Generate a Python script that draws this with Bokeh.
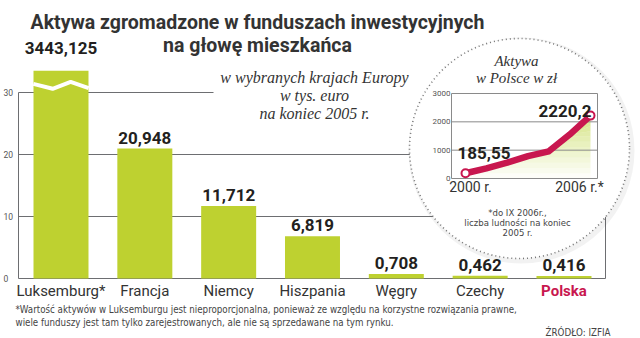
import numpy as np
from bokeh.plotting import figure
from bokeh.models import Range1d, Label
from bokeh.core.properties import value
from bokeh.embed import file_html
from bokeh.resources import INLINE

# ---------------- data ----------------
countries = ["Luksemburg*", "Francja", "Niemcy", "Hiszpania", "Węgry", "Czechy", "Polska"]
assets_k_eur = [3443.125, 20.948, 11.712, 6.819, 0.708, 0.462, 0.416]
value_labels = ["3443,125", "20,948", "11,712", "6,819", "0,708", "0,462", "0,416"]
y_ticks = [0, 10, 20, 30]

pl_years = [2000, 2001, 2002, 2003, 2004, 2005, 2006]
pl_assets_zl = [185.55, 360, 560, 790, 960, 1550, 2220.2]
pl_ticks = [0, 1000, 2000, 3000]
pl_x_labels = ["2000 r.", "2006 r.*"]
pl_end_labels = ["185,55", "2220,2"]

# ---------------- layout helpers ----------------
W, H = 640, 338
BREAK_CAP = 33.5          # broken (out-of-scale) bar is cut here
X0PX, DXPX = 60.5, 83.83  # pixel of first category centre, pixels per category
Y0PX, DYPX = 278.0, 6.2   # pixel row of zero, pixels per unit
IX0PX, IDX = 465.0, 125.0 / 6   # inset: pixel of year 2000, pixels per year
IY0PX, IDY = 178.0, 85.0 / 3000  # inset: pixel row of zero, pixels per unit

def mx(px): return (px - X0PX) / DXPX
def my(py): return (Y0PX - py) / DYPX
def ix(px): return 2000 + (px - IX0PX) / IDX
def iy(py): return (IY0PX - py) / IDY

GREEN = "#bed130"
CRIMSON = "#c8174f"
DARK = "#231f20"
GRID = "#6d6e71"
SANS = "Roboto"
SERIF = "Liberation Serif"
NARROW = "'Liberation Sans Narrow', 'DejaVu Sans Condensed', sans-serif"

p = figure(width=W, height=H, x_range=Range1d(mx(0), mx(W)), y_range=Range1d(my(H), my(0)),
           x_axis_type=None, y_axis_type=None, toolbar_location=None, output_backend="svg",
           min_border=0, outline_line_color=None, background_fill_color="white",
           border_fill_color="white")
p.extra_x_ranges = {"ins": Range1d(ix(0), ix(W))}
p.extra_y_ranges = {"ins": Range1d(iy(H), iy(0))}

def lab(x, ytop, text, **kw):
    p.add_layout(Label(x=x, y=H - ytop, x_units="screen", y_units="screen", text=text, **kw))

# ---------------- main chart ----------------
idx = np.arange(len(countries))
grid_right = [mx(605), mx(605), mx(605), mx(213)]
p.segment(x0=[mx(18)] * len(y_ticks), y0=y_ticks, x1=grid_right, y1=y_ticks,
          line_color=GRID, line_width=1)
p.segment(x0=[mx(18), mx(605)], y0=[0, 0], x1=[mx(18), mx(605)], y1=[y_ticks[-1], y_ticks[1]],
          line_color=GRID, line_width=1)
p.text(x=[mx(3)] * len(y_ticks), y=y_ticks, text=[str(t) for t in y_ticks],
       text_font=value(SANS), text_font_size="8.5px", text_color="#555",
       text_baseline="middle", text_align="left")

shown = np.minimum(np.array(assets_k_eur), BREAK_CAP)
p.vbar(x=idx, top=shown, width=0.656, fill_color=GREEN, line_color=None)
# break mark on the out-of-scale bar
bx = idx[0] + np.array([-0.33, -0.1, 0.115, 0.33])
by = BREAK_CAP - np.array([2.1, 2.9, 1.8, 2.8])
p.line(x=bx, y=by, line_color="white", line_width=4)

offs = [-17] + [-5] * (len(idx) - 1)
p.text(x=idx, y=shown, text=value_labels, y_offset=offs,
       text_font=value(SANS), text_font_style="bold", text_font_size="17px",
       text_color=DARK, text_baseline="bottom", text_align="center")

cat_colors = ["#333333"] * (len(countries) - 1) + [CRIMSON]
cat_styles = ["normal"] * (len(countries) - 1) + ["bold"]
p.text(x=idx, y=[0] * len(idx), text=countries, y_offset=12,
       text_font=value(SANS), text_font_size="15px", text_color=cat_colors,
       text_font_style=cat_styles, text_baseline="middle", text_align="center")

# ---------------- inset circle ----------------
p.scatter(x=[mx(521)], y=[my(150)], size=226, marker="circle",
          fill_color="#000000", fill_alpha=0.05, line_color=None)
p.scatter(x=[mx(519)], y=[my(148)], size=220, marker="circle",
          fill_color="white", line_color="#777777", line_dash="1 3", line_width=1.6)

R = dict(x_range_name="ins", y_range_name="ins")
bl, br = ix(451), ix(597)
# gradient area under line
vals = np.array(pl_assets_zl)
levels = np.linspace(0, vals.max(), 13)
for k in range(len(levels) - 1):
    p.varea(x=pl_years, y1=np.minimum(vals, levels[k]), y2=np.minimum(vals, levels[k + 1]),
            fill_color="#c2d84e", fill_alpha=0.04 + 0.6 * k / (len(levels) - 2), **R)
p.segment(x0=[bl] * len(pl_ticks), y0=pl_ticks, x1=[br] * len(pl_ticks), y1=pl_ticks,
          line_color="#8a8a8a", line_width=1, **R)
p.segment(x0=[bl, br], y0=[0, 0], x1=[bl, br], y1=[pl_ticks[-1]] * 2,
          line_color="#8a8a8a", line_width=1, **R)
p.text(x=[bl] * len(pl_ticks), y=pl_ticks, text=[str(t) for t in pl_ticks], x_offset=-1,
       text_font=value(SANS), text_font_size="8px", text_color="#555",
       text_baseline="middle", text_align="right", **R)
p.line(x=pl_years, y=pl_assets_zl, line_color=CRIMSON, line_width=6.5,
       line_join="round", line_cap="round", **R)
ends = [0, len(pl_years) - 1]
p.scatter(x=[pl_years[i] for i in ends], y=[pl_assets_zl[i] for i in ends], size=8,
          fill_color="white", line_color=CRIMSON, line_width=2, **R)
p.text(x=[pl_years[0]], y=[pl_assets_zl[0]], text=[pl_end_labels[0]], x_offset=-8, y_offset=-20,
       text_font=value(SANS), text_font_style="bold", text_font_size="17px", text_color=DARK,
       text_baseline="alphabetic", text_align="left", **R)
p.text(x=[pl_years[-1]], y=[pl_assets_zl[-1]], text=[pl_end_labels[1]], x_offset=1, y_offset=-5,
       text_font=value(SANS), text_font_style="bold", text_font_size="17px", text_color=DARK,
       text_baseline="alphabetic", text_align="right", **R)
p.text(x=[pl_years[0], pl_years[-1]], y=[0, 0], text=pl_x_labels, x_offset=[5, -11], y_offset=8,
       text_font=value(SANS), text_font_size="14px", text_color="#333",
       text_baseline="middle", text_align="center", **R)

lab(516, 60, "Aktywa", text_font=SERIF, text_font_style="italic", text_font_size="15px",
    text_color="#333", text_align="center", text_baseline="middle")
lab(516, 77, "w Polsce w zł", text_font=SERIF, text_font_style="italic", text_font_size="15px",
    text_color="#333", text_align="center", text_baseline="middle")
for i, t in enumerate(["*do IX 2006r.,", "liczba ludności na koniec", "2005 r."]):
    lab(517, 212 + 10 * i, t, text_font=NARROW, text_font_size="9.5px", text_color="#444",
        text_align="center", text_baseline="middle")

# ---------------- titles and notes ----------------
lab(257, 22, "Aktywa zgromadzone w funduszach inwestycyjnych", text_font=SANS,
    text_font_style="bold", text_font_size="19.5px", text_color="#333",
    text_align="center", text_baseline="middle")
lab(257, 45, "na głowę mieszkańca", text_font=SANS, text_font_style="bold",
    text_font_size="19.5px", text_color="#333", text_align="center", text_baseline="middle")
for i, t in enumerate(["w wybranych krajach Europy", "w tys. euro", "na koniec 2005 r."]):
    lab(314, 77 + 18 * i, t, text_font=SERIF, text_font_style="italic", text_font_size="16px",
        text_color="#333", text_align="center", text_baseline="middle")
lab(15, 309, "*Wartość aktywów w Luksemburgu jest nieproporcjonalna, ponieważ ze względu na korzystne rozwiązania prawne,",
    text_font=NARROW, text_font_size="9.7px", text_color="#444", text_baseline="middle")
lab(15, 322, "wiele funduszy jest tam tylko zarejestrowanych, ale nie są sprzedawane na tym rynku.",
    text_font=NARROW, text_font_size="9.7px", text_color="#444", text_baseline="middle")
lab(610, 332, "ŹRÓDŁO: IZFIA", text_font=NARROW, text_font_size="9.7px", text_color="#444",
    text_align="right", text_baseline="middle")

open("out.html", "w").write(file_html(p, INLINE))
